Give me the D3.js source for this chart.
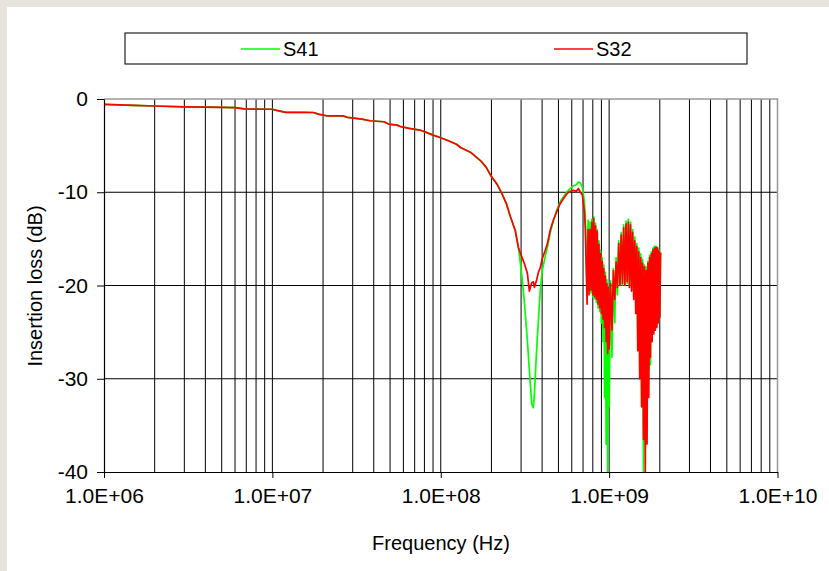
<!DOCTYPE html>
<html>
<head>
<meta charset="utf-8">
<script src="https://cdn.jsdelivr.net/npm/d3@7"></script>
<style>
  body { margin: 0; background: #e7e4dd; }
  text { font-family: "Liberation Sans", Arial, sans-serif; fill: #000; }
</style>
</head>
<body>
<div id="chart"></div>
<script>
// frequency in MHz (smooth sweep part, then the dense part above ~740 MHz)
const freqMHz = [
  1, 1.5, 2, 3, 4, 5, 6, 6.8, 8, 10,
  10.6, 12, 15, 17.5, 19, 21, 26, 28, 34, 38,
  46, 49, 55, 58, 65, 75, 82, 90, 100, 110,
  124, 131, 150, 172, 186, 198, 217, 230, 245, 259,
  277, 289, 301, 313, 327, 336, 347, 355, 360, 370,
  380, 390, 401, 418, 430, 448, 466, 486, 513, 535,
  565, 587, 613, 639, 657, 675, 694, 703, 712, 722,
  740, 750, 760, 770, 780, 790, 800, 810, 820, 830,
  840, 850, 860, 870, 880, 890, 900, 910, 920, 930,
  940, 950, 960, 970, 980, 990, 1000,
  1020, 1040, 1060, 1080, 1100, 1120, 1140, 1160, 1180, 1200,
  1220, 1240, 1260, 1280, 1300, 1320, 1340, 1360, 1380, 1400,
  1420, 1440, 1460, 1480, 1500, 1520, 1540, 1560, 1580, 1600,
  1620, 1640, 1660, 1680, 1700, 1720, 1740, 1760, 1780, 1800,
  1820, 1840, 1860, 1880, 1900, 1920, 1940, 1960, 1980, 2000, 2020
];

const s41 = [
  -0.57, -0.68, -0.75, -0.84, -0.88, -0.9, -0.93, -1.05, -1.08, -1.1,
  -1.22, -1.43, -1.43, -1.45, -1.65, -1.8, -1.8, -1.97, -2.15, -2.33,
  -2.44, -2.69, -2.8, -2.97, -3.15, -3.33, -3.58, -3.87, -4.15, -4.45,
  -4.85, -5.2, -5.7, -6.6, -7.3, -8.2, -9.2, -10.1, -11.2, -12.6,
  -14.1, -15.9, -18.4, -21.6, -25.9, -29.1, -32.7, -33.1, -31.6, -27.3,
  -23.8, -20.5, -18.4, -16.8, -15.9, -14.3, -13.1, -12.0, -11.0, -10.5,
  -9.9, -9.6, -9.3, -9.2, -8.9, -9.0, -9.5, -10.2, -11.0, -12.5,
  -21, -13, -20.5, -13.2, -20.8, -12.9, -21.2, -12.6, -21.4, -13.3,
  -21.8, -14, -22.4, -15.2, -22.8, -16.2, -24, -17, -26, -17.8,
  -32, -18.6, -37, -19.4, -40, -20, -33,
  -19.5, -27.7, -18.2, -24, -17, -21, -15.2, -20, -14.3, -20,
  -13.5, -20, -13.1, -19.8, -12.9, -20, -13.2, -20.5, -14, -21.2,
  -14.8, -23, -15.5, -26, -16, -29, -16.6, -33, -17.2, -40,
  -17.8, -37, -18, -33, -17.4, -29, -16.8, -28.5, -16.4, -26,
  -16, -25, -15.8, -24.6, -15.8, -24.2, -15.9, -23.8, -16.2, -23.2, -16.4
];

const s32 = [
  -0.57, -0.68, -0.75, -0.84, -0.88, -0.9, -0.93, -1.05, -1.08, -1.1,
  -1.22, -1.43, -1.43, -1.45, -1.65, -1.8, -1.8, -1.97, -2.15, -2.33,
  -2.44, -2.69, -2.8, -2.97, -3.15, -3.33, -3.58, -3.87, -4.15, -4.45,
  -4.85, -5.2, -5.7, -6.6, -7.3, -8.2, -9.2, -10.1, -11.2, -12.6,
  -14.1, -15.9, -16.8, -17.6, -18.7, -20.6, -19.7, -19.6, -20.2, -19.5,
  -18.6, -18.1, -17.1, -16.2, -15.5, -14.0, -13.0, -12.2, -11.2, -10.7,
  -10.1, -9.9, -9.8, -9.9, -9.6, -10.0, -10.3, -11.2, -12.0, -13.8,
  -22, -14, -21, -14, -20.5, -13.2, -21, -12.8, -21.2, -13.6,
  -21.5, -14.2, -22, -15.6, -22.4, -16.6, -23, -17.4, -23.6, -18.2,
  -24.5, -19, -26, -19.8, -27.3, -20.2, -26.8,
  -19.8, -24.8, -18.4, -21.5, -17.5, -20.2, -15.5, -20, -14.6, -19.8,
  -13.8, -20, -13.4, -19.6, -13.2, -20.2, -13.5, -20.6, -14.3, -21.5,
  -15.2, -23, -15.8, -27, -16.4, -30, -17, -33, -17.6, -36.5,
  -18, -40, -18.4, -37, -17.6, -32, -17, -27.7, -16.6, -26,
  -16.2, -25.2, -16, -24.8, -15.9, -24.5, -16, -24, -16.3, -23.4, -16.5
];

const xTicks = [1e6, 1e7, 1e8, 1e9, 1e10];
const xTickLabels = ["1.0E+06", "1.0E+07", "1.0E+08", "1.0E+09", "1.0E+10"];
const yTicks = [0, -10, -20, -30, -40];
const yTickLabels = ["0", "-10", "-20", "-30", "-40"];
const seriesNames = ["S41", "S32"];
const seriesColors = ["#00ff00", "#ff0000"];

const W = 829, H = 571;
const plot = { left: 104, right: 777.5, top: 99, bottom: 472 };
const fontSize = 20;
const tickFontSize = 21;

const svg = d3.select("#chart")
  .append("svg")
  .attr("width", W)
  .attr("height", H);

// beige frame + white panel
svg.append("rect").attr("width", W).attr("height", H).attr("fill", "#e7e4dd");
svg.append("rect").attr("x", 7).attr("y", 7).attr("width", W - 7).attr("height", H - 7).attr("fill", "#fff");

const x = d3.scaleLog()
  .domain([1e6, 1e10])
  .range([plot.left, plot.right]);

const y = d3.scaleLinear()
  .domain([-40, 0])
  .range([plot.bottom, plot.top]);

// vertical grid: every 1..9 x decade
const gridX = [];
for (let d = 1e6; d < 1e10; d *= 10) {
  for (let k = 1; k <= 9; k++) gridX.push(d * k);
}
svg.append("g")
  .selectAll("line")
  .data(gridX.slice(1))
  .enter().append("line")
  .attr("x1", d => x(d)).attr("x2", d => x(d))
  .attr("y1", plot.top).attr("y2", plot.bottom)
  .attr("stroke", "#000").attr("stroke-width", 1);

// horizontal grid
svg.append("g")
  .selectAll("line")
  .data([-10, -20, -30])
  .enter().append("line")
  .attr("x1", plot.left).attr("x2", plot.right)
  .attr("y1", d => y(d)).attr("y2", d => y(d))
  .attr("stroke", "#000").attr("stroke-width", 1);

// top and right border
svg.append("path")
  .attr("d", `M${plot.left},${plot.top}H${plot.right}V${plot.bottom}`)
  .attr("fill", "none").attr("stroke", "#999").attr("stroke-width", 1.5);

// series
svg.append("clipPath").attr("id", "clip")
  .append("rect")
  .attr("x", plot.left).attr("y", plot.top)
  .attr("width", plot.right - plot.left).attr("height", plot.bottom - plot.top + 1);

const line = d3.line()
  .x(d => x(d[0] * 1e6))
  .y(d => y(d[1]));

[s41, s32].forEach((vals, i) => {
  svg.append("path")
    .datum(freqMHz.map((f, j) => [f, vals[j]]))
    .attr("clip-path", "url(#clip)")
    .attr("fill", "none")
    .attr("stroke", seriesColors[i])
    .attr("stroke-width", 1.7)
    .attr("stroke-linejoin", "round")
    .attr("d", line);
});

// axes
const xAxis = svg.append("g")
  .attr("transform", `translate(0,${plot.bottom})`)
  .call(d3.axisBottom(x)
    .tickValues(xTicks)
    .tickFormat((d, i) => xTickLabels[i])
    .tickSize(6)
    .tickSizeOuter(0)
    .tickPadding(10));

const yAxis = svg.append("g")
  .attr("transform", `translate(${plot.left},0)`)
  .call(d3.axisLeft(y)
    .tickValues(yTicks)
    .tickFormat((d, i) => yTickLabels[i])
    .tickSize(7)
    .tickSizeOuter(0)
    .tickPadding(9));

[xAxis, yAxis].forEach(g => {
  g.select(".domain").attr("stroke", "#000").attr("stroke-width", 1.2);
  g.selectAll(".tick line").attr("stroke", "#000");
  g.selectAll("text")
    .attr("font-family", "Liberation Sans, Arial, sans-serif")
    .attr("font-size", tickFontSize)
    .attr("fill", "#000");
});

// axis titles
svg.append("text")
  .attr("x", 441).attr("y", 550)
  .attr("text-anchor", "middle")
  .attr("font-size", fontSize)
  .text("Frequency (Hz)");

svg.append("text")
  .attr("transform", "translate(42,286) rotate(-90)")
  .attr("text-anchor", "middle")
  .attr("font-size", fontSize)
  .text("Insertion loss (dB)");

// legend
const legend = svg.append("g");
legend.append("rect")
  .attr("x", 125).attr("y", 33)
  .attr("width", 622).attr("height", 31)
  .attr("fill", "#fff")
  .attr("stroke", "#222").attr("stroke-width", 1.2);

const legendX = [241, 554];
seriesNames.forEach((name, i) => {
  legend.append("line")
    .attr("x1", legendX[i]).attr("x2", legendX[i] + 39)
    .attr("y1", 49).attr("y2", 49)
    .attr("stroke", seriesColors[i]).attr("stroke-width", 1.6);
  legend.append("text")
    .attr("x", legendX[i] + 42).attr("y", 56)
    .attr("font-size", fontSize)
    .text(name);
});
</script>
</body>
</html>
